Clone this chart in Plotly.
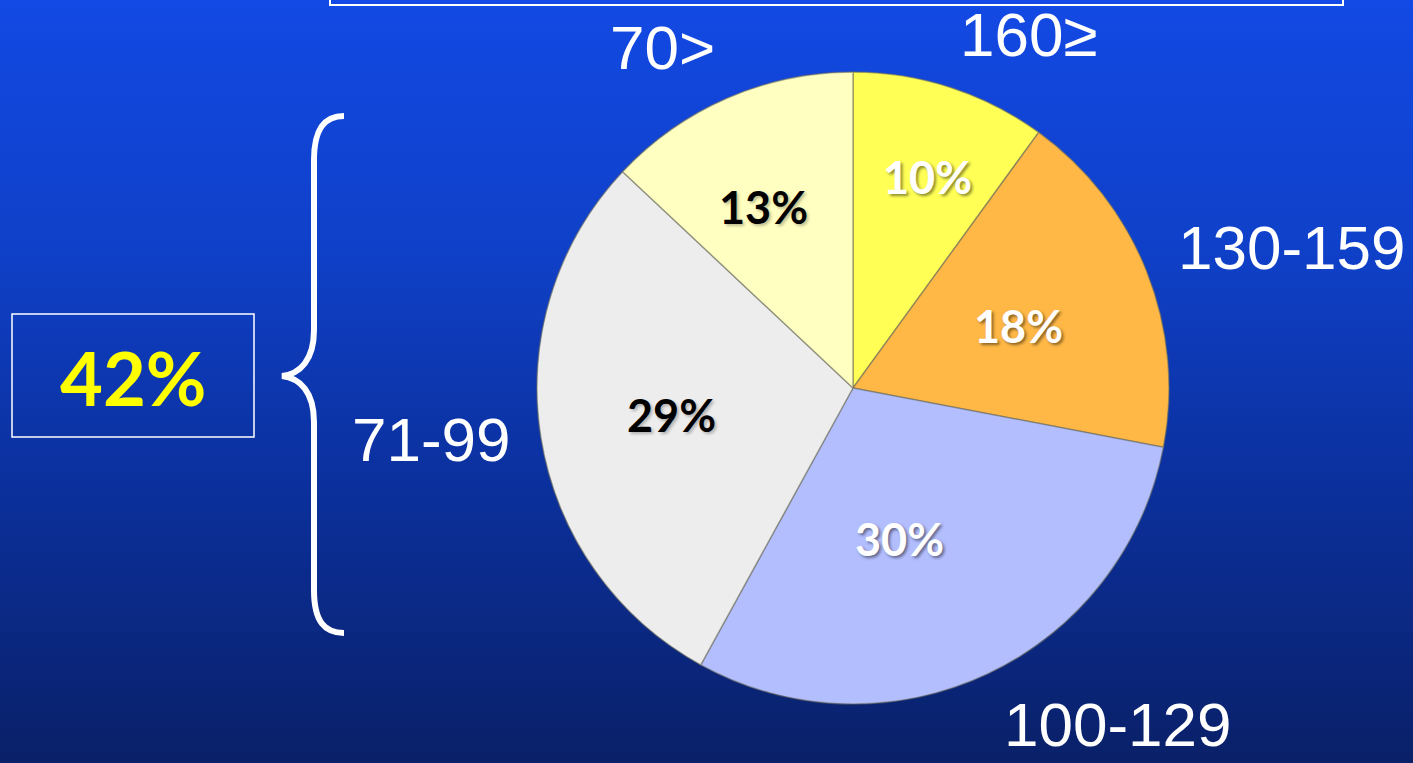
import math
import plotly.graph_objects as go

# ---- data ----
categories = ["160≥", "130-159", "100-129", "71-99", "70>"]
values = [10, 18, 30, 29, 13]
pct_text = ["10%", "18%", "30%", "29%", "13%"]
bracket_value = "42%"

# ---- styles ----
slice_colors = ["#ffff55", "#ffb845", "#b3beff", "#ededed", "#ffffc2"]
text_colors = ["white", "white", "white", "black", "black"]
text_radius = [0.71, 0.56, 0.50, 0.58, 0.64]      # fraction of pie radius
text_angle_shift = [1.5, 1.0, 8.0, 0.5, -3.0]    # degrees

W, H = 1413, 763

fig = go.Figure()

# pie geometry (pixels)
cx, cy, r = 853, 388, 316
fig.add_trace(go.Pie(
    labels=categories,
    values=values,
    text=pct_text,
    textinfo="none",
    sort=False,
    direction="clockwise",
    rotation=0,
    marker=dict(colors=slice_colors, line=dict(color="rgba(110,110,90,0.55)", width=1.5)),
    domain=dict(x=[(cx - r) / W, (cx + r) / W],
                y=[(H - cy - r) / H, (H - cy + r) / H]),
    showlegend=False,
    hoverinfo="label+percent",
))

# ---- background gradient as stripes ----
stops = [(0, (19, 73, 228)), (250, (15, 64, 200)), (500, (11, 47, 154)), (763, (10, 32, 104))]
shapes = []
step = 8
for y0 in range(0, H, step):
    ym = y0 + step / 2
    for i in range(len(stops) - 1):
        if stops[i][0] <= ym <= stops[i + 1][0]:
            t = (ym - stops[i][0]) / (stops[i + 1][0] - stops[i][0])
            c = tuple(round(stops[i][1][k] + t * (stops[i + 1][1][k] - stops[i][1][k])) for k in range(3))
            break
    shapes.append(dict(type="rect", xref="paper", yref="paper", layer="below",
                       x0=0, x1=1, y0=1 - (y0 + step + 1) / H, y1=1 - y0 / H,
                       fillcolor="rgb(%d,%d,%d)" % c, line=dict(width=0)))

def px(x):
    return x / W

def py(y):
    return 1 - y / H

# top box (partially visible)
shapes.append(dict(type="rect", xref="paper", yref="paper", x0=px(330), x1=px(1343), y0=py(5), y1=py(-20),
                   line=dict(color="white", width=2), fillcolor="rgba(0,0,0,0)"))
# left box
shapes.append(dict(type="rect", xref="paper", yref="paper", x0=px(12), x1=px(254), y0=py(437), y1=py(314),
                   line=dict(color="white", width=1.5), fillcolor="rgba(0,0,0,0)"))

# brace
def P(x, y):
    return "%f,%f" % (px(x), py(y))

brace = ("M " + P(344, 116) +
         " C " + P(325, 116) + " " + P(314, 128) + " " + P(314, 160) +
         " L " + P(314, 330) +
         " C " + P(314, 360) + " " + P(300, 374) + " " + P(282, 376) +
         " C " + P(300, 378) + " " + P(314, 392) + " " + P(314, 422) +
         " L " + P(314, 590) +
         " C " + P(314, 622) + " " + P(325, 633) + " " + P(344, 633))
shapes.append(dict(type="path", xref="paper", yref="paper", path=brace,
                   line=dict(color="white", width=6)))

annotations = []

# ---- percentage labels placed at each slice's mid-angle ----
total = sum(values)
cum = 0
for i, v in enumerate(values):
    mid = (cum + v / 2) / total * 360 + text_angle_shift[i]
    cum += v
    rr = text_radius[i] * r
    tx = cx + rr * math.sin(math.radians(mid))
    ty = cy - rr * math.cos(math.radians(mid))
    shadow = ("2px 2px 3px rgba(0,0,0,0.45)" if text_colors[i] == "white"
              else "2px 2px 3px rgba(0,0,0,0.25)")
    annotations.append(dict(text=pct_text[i], x=px(tx), y=py(ty), xref="paper", yref="paper",
                            showarrow=False, xanchor="center", yanchor="middle",
                            font=dict(family="Lato", size=45, weight="bold",
                                      color=text_colors[i], shadow=shadow)))

# ---- category labels ----
label_pos = {
    "160≥": (1028, 35),
    "130-159": (1292, 248),
    "100-129": (1118, 724),
    "71-99": (431, 439),
    "70>": (662, 47),
}
for name in categories:
    x, y = label_pos[name]
    annotations.append(dict(text=name, x=px(x), y=py(y), xref="paper", yref="paper",
                            showarrow=False, xanchor="center", yanchor="middle",
                            font=dict(family="Liberation Sans", size=62, color="white")))
annotations.append(dict(text=bracket_value, x=px(133), y=py(377), xref="paper", yref="paper",
                        showarrow=False, xanchor="center", yanchor="middle",
                        font=dict(family="Lato", size=74, weight="bold", color="#ffff00")))

fig.update_layout(
    width=W, height=H,
    margin=dict(l=0, r=0, t=0, b=0),
    paper_bgcolor="#0f3fc4",
    plot_bgcolor="rgba(0,0,0,0)",
    shapes=shapes,
    annotations=annotations,
)

fig.write_html("out.html")
